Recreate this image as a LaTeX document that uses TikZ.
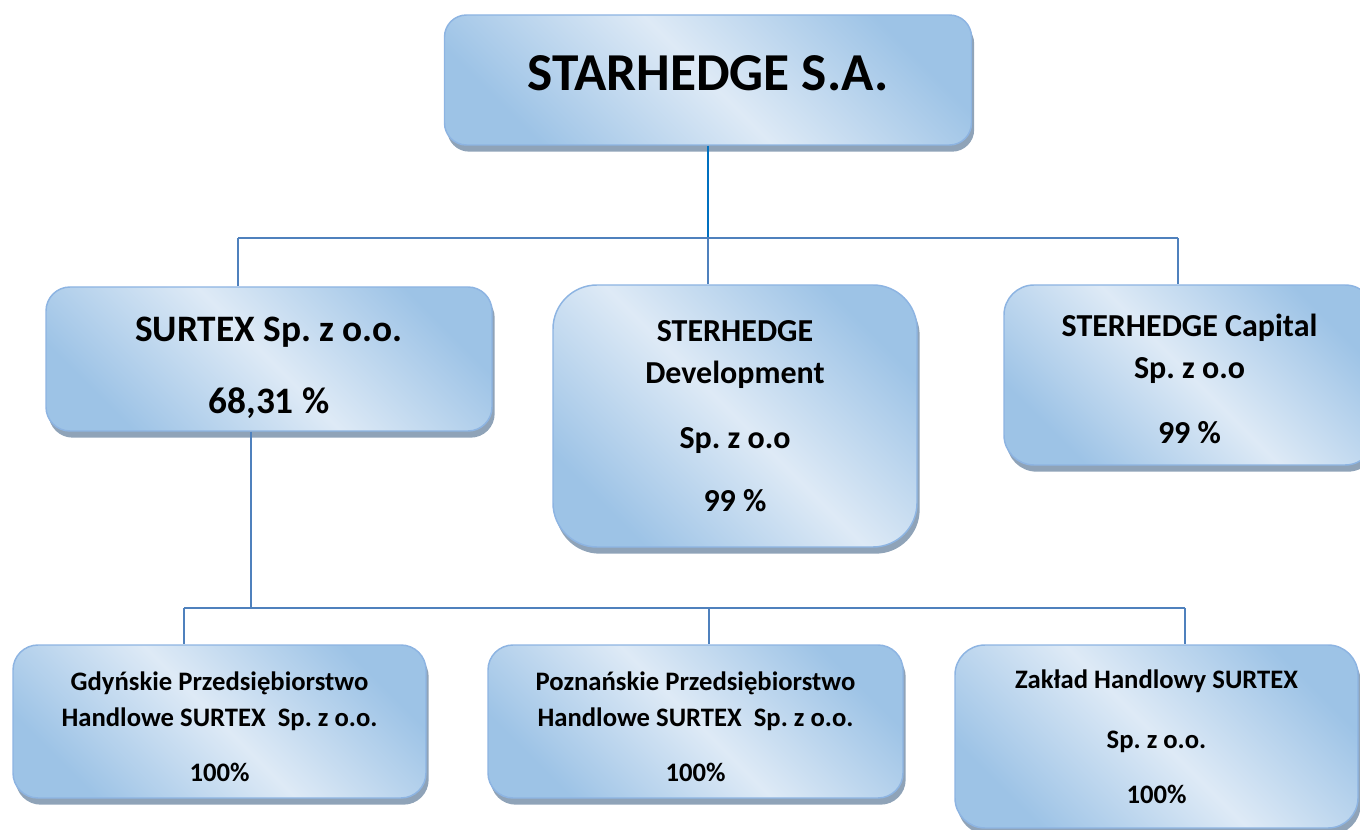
\documentclass[tikz,border=0pt]{standalone}
\usepackage{fontspec}
\setmainfont{Carlito}
\usetikzlibrary{shadows}

\definecolor{boxdark}{RGB}{157,195,230}
\definecolor{boxlight}{RGB}{222,234,246}
\definecolor{boxedge}{RGB}{141,180,226}
\definecolor{boxshadow}{RGB}{143,163,184}
\definecolor{linkblue}{RGB}{79,129,189}
\definecolor{trunkblue}{RGB}{0,112,192}

\frenchspacing

\begin{document}
\begin{tikzpicture}[x=0.75pt, y=-0.75pt]

\def\px{0.75pt}

\useasboundingbox (0, 0) rectangle (1360, 830) ;

% boxes

\tikzstyle{company box} = [draw=boxedge, line width=1.1pt, top color=boxdark, bottom color=boxdark, middle color=boxlight, shading angle=-45,
	drop shadow={shadow xshift=2pt, shadow yshift=-5pt, fill=boxshadow, opacity=1},
	align=center, inner sep=0pt, text=black]

\node [company box, minimum width=527*\px, minimum height=130*\px, rounded corners=22*\px, text depth=10.5pt,
	font=\fontsize{40}{48}\selectfont\bfseries] (starhedge) at (708, 80) {STARHEDGE S.A.} ;

\node [company box, minimum width=446*\px, minimum height=144*\px, rounded corners=24*\px, text height=85pt,
	font=\fontsize{28}{54}\selectfont\bfseries] (surtex) at (269, 359) {SURTEX Sp. z o.o.\\ 68,31 \%} ;

\node [company box, minimum width=364*\px, minimum height=262*\px, rounded corners=44*\px,
	font=\fontsize{24}{31.5}\selectfont\bfseries] (development) at (735, 416)
	{STERHEDGE\\ Development\\[17pt] Sp. z o.o\\[16pt] 99 \%} ;

\node [company box, minimum width=371*\px, minimum height=180*\px, rounded corners=30*\px, text height=103pt,
	font=\fontsize{24}{31}\selectfont\bfseries] (capital) at (1189.5, 375)
	{STERHEDGE Capital\\ Sp. z o.o\\[18pt] 99 \%} ;

\node [company box, minimum width=413*\px, minimum height=153*\px, rounded corners=25*\px, text height=90pt,
	font=\fontsize{20}{27}\selectfont\bfseries] (gdynia) at (219.5, 721.5)
	{Gdyńskie Przedsiębiorstwo\\ Handlowe SURTEX\ \ Sp. z o.o.\\[14pt] 100\%} ;

\node [company box, minimum width=415*\px, minimum height=153*\px, rounded corners=25*\px, text height=90pt,
	font=\fontsize{20}{27}\selectfont\bfseries] (poznan) at (695.5, 721.5)
	{Poznańskie Przedsiębiorstwo\\ Handlowe SURTEX\ \ Sp. z o.o.\\[14pt] 100\%} ;

\node [company box, minimum width=403*\px, minimum height=183*\px, rounded corners=30*\px,
	font=\fontsize{20}{41}\selectfont\bfseries] (zaklad) at (1156.5, 736.5)
	{Zakład Handlowy SURTEX\\[4pt] Sp. z o.o.\\ 100\%} ;

% connectors

\tikzstyle{link} = [draw=linkblue, line width=1.1pt]

\coordinate (upper bus left) at (238, 238) ;
\coordinate (upper bus right) at (1178, 238) ;
\coordinate (upper bus mid) at (708, 238) ;

\draw [link, draw=trunkblue] (starhedge.south) -- (starhedge.south |- upper bus mid) ;
\draw [link] (upper bus left) -- (upper bus right) ;
\draw [link] (upper bus left) -- (upper bus left |- surtex.north) ;
\draw [link] (upper bus mid) -- (upper bus mid |- development.north) ;
\draw [link] (upper bus right) -- (upper bus right |- capital.north) ;

\coordinate (lower bus left) at (184, 608) ;
\coordinate (lower bus right) at (1185, 608) ;
\coordinate (lower bus mid) at (709, 608) ;
\coordinate (surtex drop) at (251, 608) ;

\draw [link] (surtex drop |- surtex.south) -- (surtex drop) ;
\draw [link] (lower bus left) -- (lower bus right) ;
\draw [link] (lower bus left) -- (lower bus left |- gdynia.north) ;
\draw [link] (lower bus mid) -- (lower bus mid |- poznan.north) ;
\draw [link] (lower bus right) -- (lower bus right |- zaklad.north) ;

\end{tikzpicture}
\end{document}
